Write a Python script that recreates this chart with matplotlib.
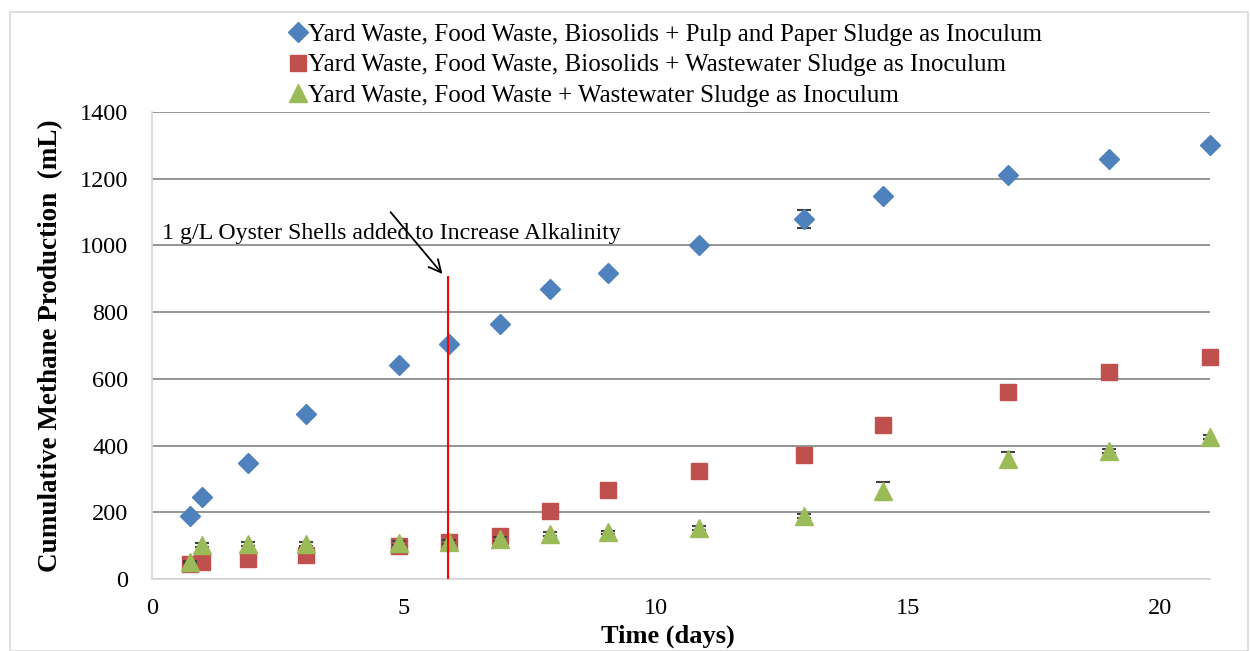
import matplotlib.pyplot as plt
from matplotlib.lines import Line2D
from matplotlib.patches import Rectangle

plt.rcParams['font.family'] = ['Liberation Serif', 'DejaVu Serif']

# waktu (hari)
days = [0.75, 1.0, 1.9, 3.05, 4.9, 5.9, 6.9, 7.9, 9.05, 10.85, 12.95, 14.5, 17.0, 19.0, 21.0]

pulp = [188, 245, 347, 494, 641, 703, 765, 868, 918, 1002, 1080, 1148, 1210, 1260, 1300]
pulp_err = [4, 5, 5, 5, 5, 6, 6, 6, 6, 6, 27, 6, 6, 6, 6]

ww_bio = [44, 52, 60, 72, 99, 110, 130, 205, 267, 325, 372, 462, 560, 620, 665]
ww_bio_err = [3, 3, 3, 3, 4, 4, 4, 4, 4, 4, 4, 4, 4, 4, 4]

ww = [52, 102, 105, 105, 108, 111, 120, 135, 140, 153, 190, 265, 360, 384, 425]
ww_err = [3, 6, 6, 6, 5, 5, 5, 6, 5, 5, 6, 27, 22, 5, 6]

labels = [
    "Yard Waste, Food Waste, Biosolids + Pulp and Paper Sludge as Inoculum",
    "Yard Waste, Food Waste, Biosolids + Wastewater Sludge as Inoculum",
    "Yard Waste, Food Waste + Wastewater Sludge as Inoculum",
]
colors = ['#4F81BD', '#C0504D', '#9BBB59']
markers = ['D', 's', '^']
sizes = [10, 12, 13]

fig = plt.figure(figsize=(12.5, 6.51), dpi=100)
ax = fig.add_axes([0.1216, 0.1106, 0.8464, 0.7174])

ebkw = dict(ecolor='#404040', elinewidth=1, capsize=5, capthick=1.5, linestyle='none')
series = [(pulp, pulp_err), (ww_bio, ww_bio_err), (ww, ww_err)]
for i, (vals, err) in enumerate(series):
    eb = ax.errorbar(days, vals, yerr=err, marker=markers[i], ms=sizes[i], color=colors[i],
                     mec=colors[i], zorder=3 + i, **ebkw)
    eb.lines[0].set_clip_on(False)

# garis penambahan kulit tiram
ax.plot([5.88, 5.88], [0, 905], color='red', lw=1.5, zorder=6)
ax.annotate('', xy=(5.8, 908), xytext=(4.7, 1106),
            arrowprops=dict(arrowstyle='->', color='black', lw=1.3, mutation_scale=22))
ax.text(0.2, 1035, "1 g/L Oyster Shells added to Increase Alkalinity",
        fontsize=17.2, va='center', ha='left')

ax.set_xlim(0, 21)
ax.set_ylim(0, 1400)
ax.set_xticks([0, 5, 10, 15, 20])
ax.set_yticks(range(0, 1401, 200))
ax.yaxis.grid(True, color='#8c8c8c', lw=1.3)
ax.set_axisbelow(True)
for s in ['top', 'right']:
    ax.spines[s].set_visible(False)
for s in ['left', 'bottom']:
    ax.spines[s].set_color('#d9d9d9')
    ax.spines[s].set_linewidth(1.3)
ax.tick_params(length=0, labelsize=17.5)
ax.tick_params(axis='y', pad=17)
ax.tick_params(axis='x', pad=14)

ax.set_xlabel('Time (days)', fontsize=19, fontweight='bold', labelpad=3)
ax.xaxis.set_label_coords(0.488, -0.098)
ax.set_ylabel('Cumulative Methane Production  (mL)', fontsize=19.5, fontweight='bold', labelpad=12)

handles = [Line2D([], [], ls='none', marker=markers[i], ms=sizes[i], color=colors[i])
           for i in range(3)]
fig.legend(handles, labels, loc='upper left', bbox_to_anchor=(0.224, 0.98),
           frameon=False, fontsize=18, handlelength=0.6, handletextpad=0.1,
           labelspacing=0.33, borderaxespad=0)

fig.patches.append(Rectangle((0.008, 0.0), 0.99, 0.982, transform=fig.transFigure,
                             fill=False, edgecolor='#d9d9d9', lw=1.2))

fig.savefig('out.png', dpi=100)
